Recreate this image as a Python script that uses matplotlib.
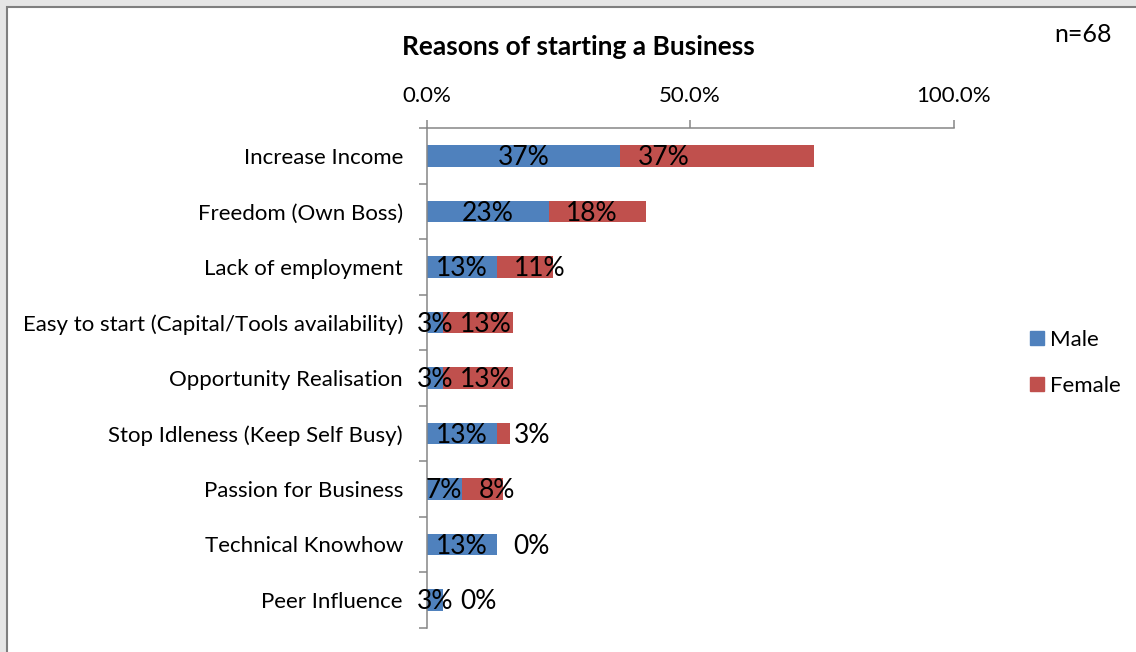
import numpy as np
import matplotlib
matplotlib.use("Agg")
import matplotlib.pyplot as plt
from matplotlib.patches import Rectangle, Patch

plt.rcParams['font.family'] = ['Lato', 'DejaVu Sans']

# Data (percent of respondents)
categories = ["Increase Income", "Freedom (Own Boss)", "Lack of employment",
              "Easy to start (Capital/Tools availability)", "Opportunity Realisation",
              "Stop Idleness (Keep Self Busy)", "Passion for Business",
              "Technical Knowhow", "Peer Influence"]
male = [36.8, 23.2, 13.4, 3.2, 3.2, 13.3, 6.7, 13.3, 3.2]
female = [36.8, 18.4, 10.6, 13.2, 13.2, 2.6, 7.9, 0.0, 0.0]
series_names = ["Male", "Female"]
x_ticks = [0, 50, 100]
title = "Reasons of starting a Business"
sample_note = "n=68"

BLUE = "#4F81BD"
RED = "#C0504D"
AXIS_GRAY = "#868686"

W, H = 1136, 652
fig = plt.figure(figsize=(W / 100, H / 100), dpi=100, facecolor="#e6e6e6")

# white chart area with a grey border on the top/left
fig.patches.append(Rectangle((7 / W, -0.2), 1.5, 1.2 - 7 / H,
                             transform=fig.transFigure, facecolor="white",
                             edgecolor="#7f7f7f", linewidth=1.5, zorder=-10))

ax = fig.add_axes([426.5 / W, (H - 627.75) / H, (953.6 - 426.5) / W, (627.75 - 128.25) / H])
ax.set_facecolor("white")

y = np.arange(len(categories))
ax.barh(y, male, height=0.39, color=BLUE, label=series_names[0])
ax.barh(y, female, left=male, height=0.39, color=RED, label=series_names[1])

ax.set_xlim(0, 100)
ax.set_ylim(len(categories) - 0.5, -0.5)

for side in ("right", "bottom"):
    ax.spines[side].set_visible(False)
for side in ("left", "top"):
    ax.spines[side].set_color(AXIS_GRAY)
    ax.spines[side].set_linewidth(1.1)

ax.xaxis.tick_top()
ax.set_xticks(x_ticks)
ax.set_xticklabels([f"{t:.1f}%" for t in x_ticks])
ax.tick_params(axis="x", direction="out", length=6, width=1.1, color=AXIS_GRAY,
               pad=10, labelsize=16)

ax.set_yticks(y)
ax.set_yticklabels(categories)
ax.set_yticks(np.arange(-0.5, len(categories), 1), minor=True)
ax.tick_params(axis="y", which="major", length=0, pad=17, labelsize=16)
ax.tick_params(axis="y", which="minor", direction="out", length=6, width=1.1,
               color=AXIS_GRAY)

# value labels: male centred, female at the base of its segment
for i in range(len(categories)):
    ax.annotate(f"{male[i]:.0f}%", xy=(male[i] / 2, i), xytext=(0, -1.2),
                textcoords="offset points", ha="center", va="center",
                fontsize=19, color="black")
    ax.annotate(f"{female[i]:.0f}%", xy=(male[i], i), xytext=(12.2, -1.2),
                textcoords="offset points", ha="left", va="center",
                fontsize=19, color="black")

fig.text(578 / W, 1 - 47 / H, title, ha="center", va="center",
         fontweight="bold", fontsize=19)
fig.text(1083 / W, 1 - 35 / H, sample_note, ha="center", va="center", fontsize=18)

fig.legend(handles=[Patch(color=BLUE), Patch(color=RED)], labels=series_names,
           loc="upper left", bbox_to_anchor=(1030 / W, 1 - 330 / H), frameon=False,
           handlelength=0.62, handleheight=0.62, handletextpad=0.3,
           labelspacing=1.15, fontsize=16, borderaxespad=0, borderpad=0)

fig.savefig("out.png", dpi=100, facecolor=fig.get_facecolor())
